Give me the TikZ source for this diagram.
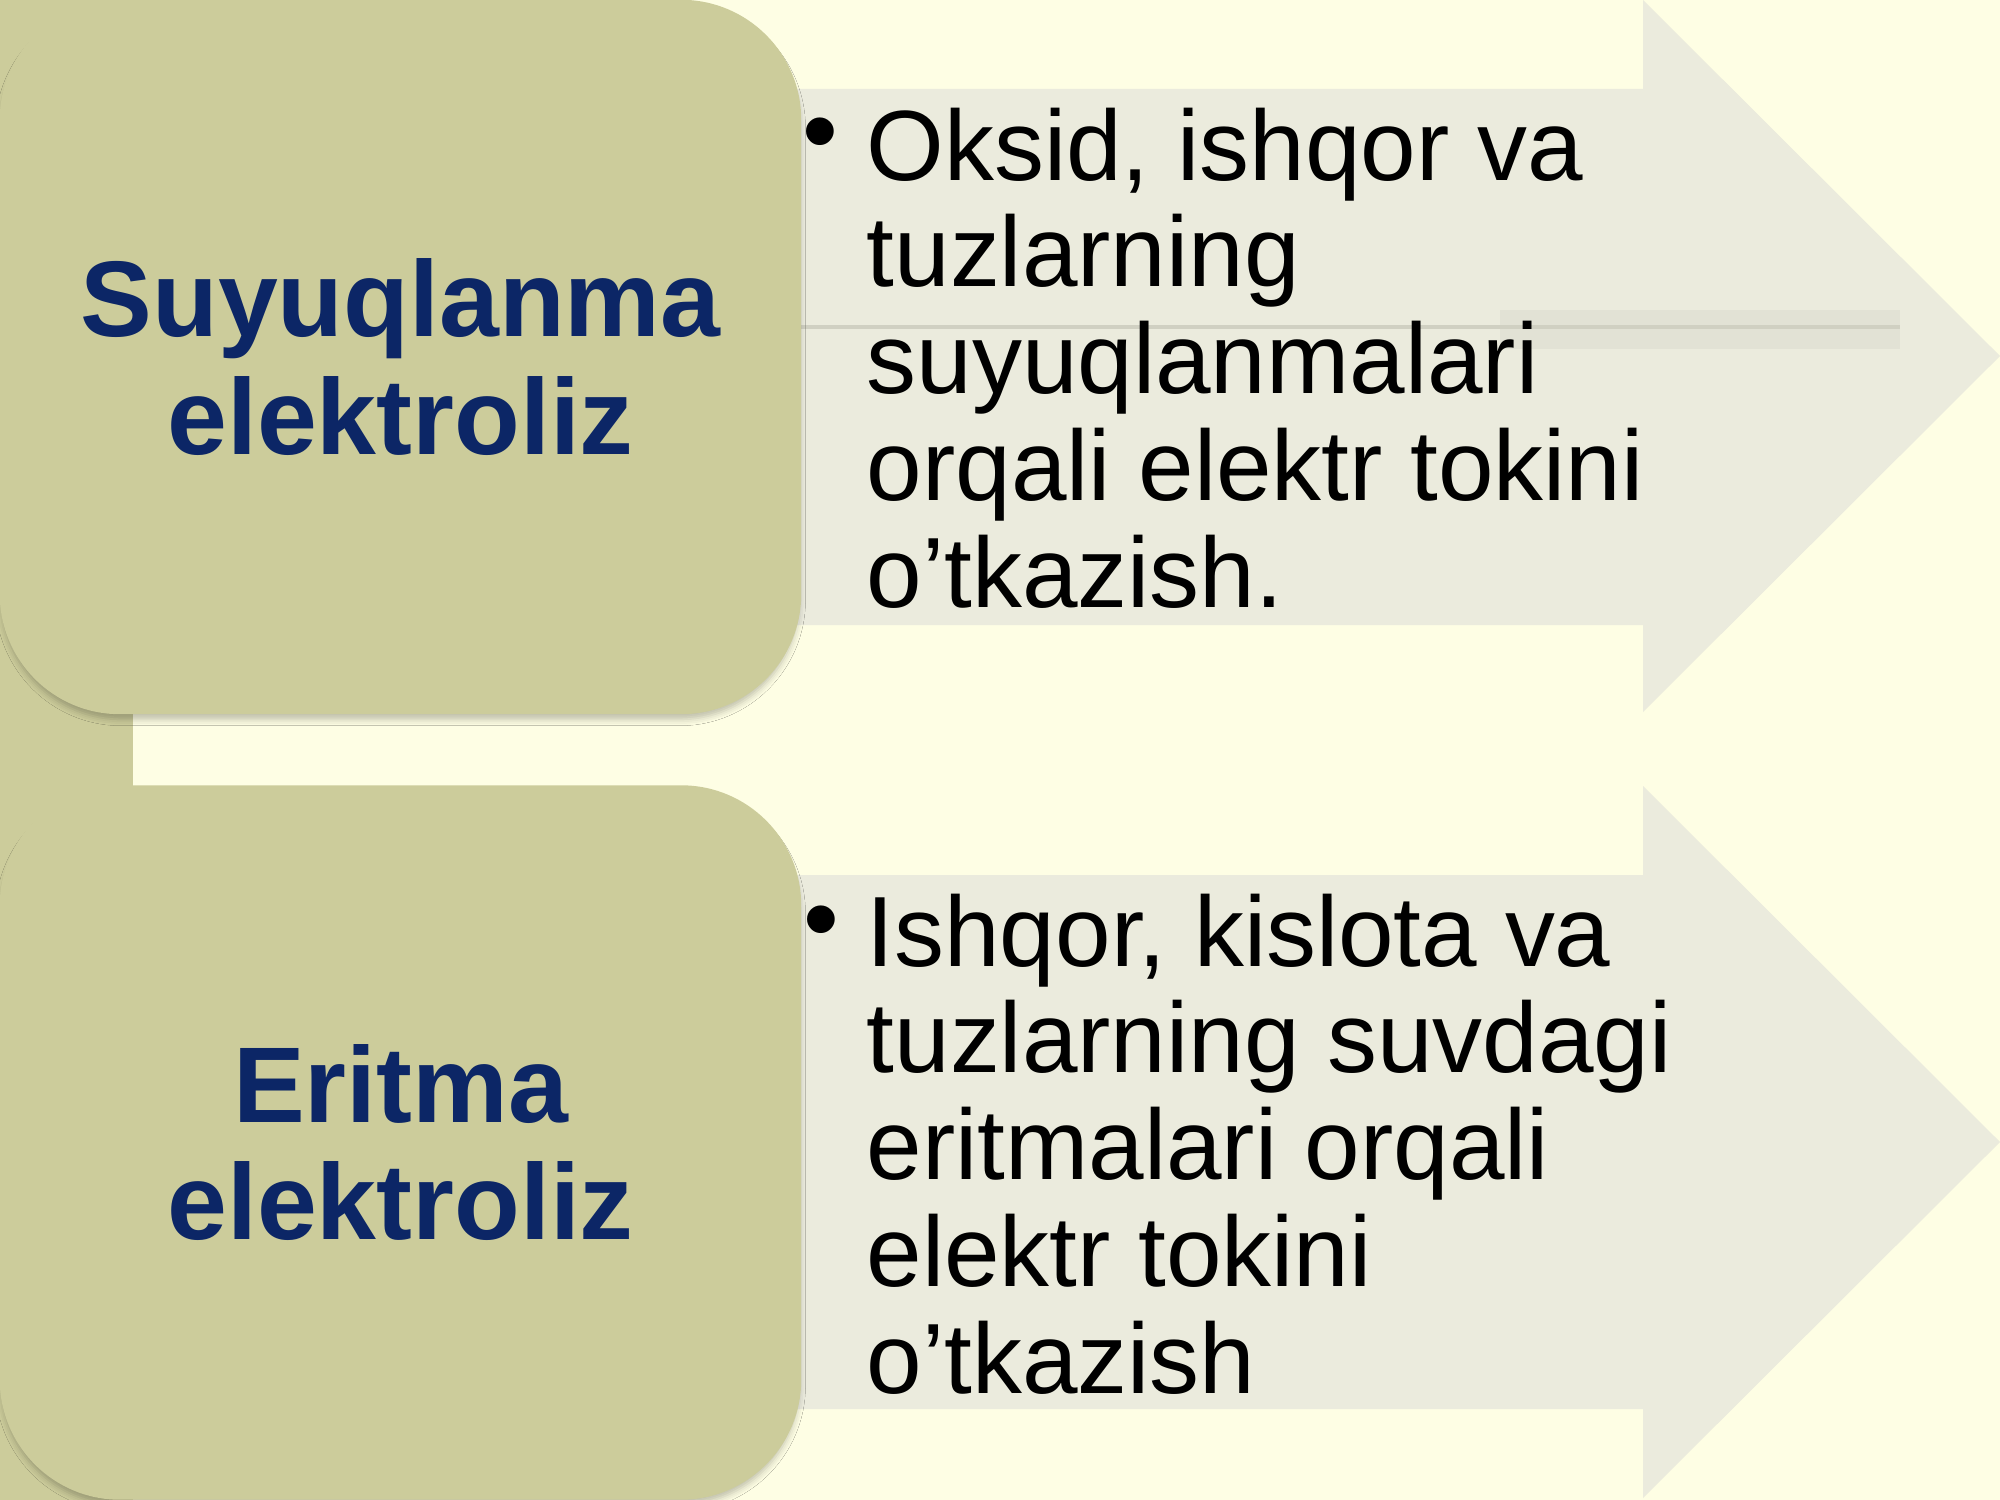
\documentclass[tikz,border=0pt]{standalone}
\usepackage{fontspec}
\setmainfont{Liberation Sans}
\usetikzlibrary{shadows.blur}
\definecolor{bgyellow}{RGB}{254,254,228}
\definecolor{olive}{RGB}{204,204,155}
\definecolor{arrowgray}{RGB}{235,235,221}
\definecolor{bandgray}{RGB}{226,226,213}
\definecolor{linegray}{RGB}{208,208,194}
\definecolor{titleblue}{RGB}{12,38,102}
\tikzset{
  titlebox/.style={rectangle, rounded corners=1.2cm, fill=olive, minimum width=8.01cm,
    minimum height=7.14cm, inner sep=0pt, align=center, text=titleblue,
    font=\bfseries\fontsize{30.6}{33.3}\selectfont,
    blur shadow={shadow xshift=0pt, shadow yshift=-2pt, shadow blur radius=1.8pt, shadow opacity=25, shadow scale=0.995}},
  bodytext/.style={anchor=base west, inner sep=0pt, text=black},
  bulletmark/.style={anchor=base, inner sep=0pt, font=\fontsize{29}{29}\selectfont},
  arrowshape/.style={fill=arrowgray}
}
\begin{document}
\begin{tikzpicture}[x=0.01cm, y=-0.01cm]
  \useasboundingbox (0,0) rectangle (2000,1500);
  \fill[bgyellow] (0,0) rectangle (2000,1500);
  % arrows
  \fill[arrowshape] (700,89) -- (1643,89) -- (1643,0) -- (2000,356) -- (1643,712) -- (1643,625) -- (700,625) -- cycle;
  \fill[arrowshape] (700,875) -- (1643,875) -- (1643,786) -- (2000,1142) -- (1643,1498) -- (1643,1409) -- (700,1409) -- cycle;
  % faint line and band
  \fill[bandgray] (1500,310) rectangle (1900,349);
  \draw[linegray, line width=0.9pt] (801,327) -- (1900,327);
  % left strip
  \fill[olive] (0,0) rectangle (133,1500);
  % boxes
  \node[titlebox] (top) at (400.5,357) {Suyuqlanma\\elektroliz};
  \node[titlebox] (bot) at (400.5,1142.5) {Eritma\\elektroliz};
  % bullets
  \node[bulletmark] (b1) at (820,166) {•};
  \node[bulletmark] (b2) at (821,953) {•};
  % body texts
  \node[bodytext] (t1) at (866,180) {\parbox[t]{11cm}{\fontsize{28.4}{30.4}\selectfont
    Oksid, ishqor va\\tuzlarning\\suyuqlanmalari\\orqali elektr tokini\\o’tkazish.}};
  \node[bodytext] (t2) at (866,966) {\parbox[t]{11cm}{\fontsize{28.4}{30.4}\selectfont
    Ishqor, kislota va\\tuzlarning suvdagi\\eritmalari orqali\\elektr tokini\\o’tkazish}};
\end{tikzpicture}
\end{document}
